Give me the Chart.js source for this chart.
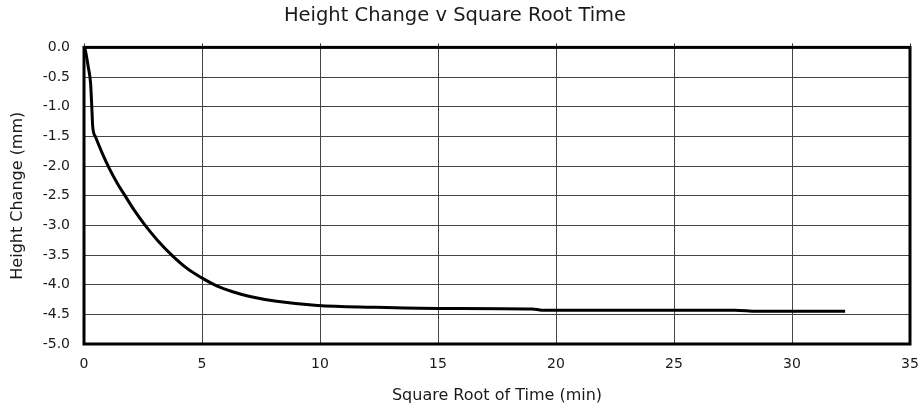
<!DOCTYPE html>
<html>
<head>
<meta charset="utf-8">
<script src="https://cdn.jsdelivr.net/npm/chart.js@4.4.1/dist/chart.umd.min.js"></script>
<style>
  html, body { margin: 0; padding: 0; background: #ffffff; }
  #wrap { width: 921px; height: 409px; }
</style>
</head>
<body>
<div id="wrap"><canvas id="chart" width="921" height="409"></canvas></div>
<script>
// values
const sqrtTime = [0, 0.04, 0.18, 0.28, 0.33, 0.37, 0.49, 0.78, 1.06, 1.41, 1.77, 2.12, 2.61, 3.11, 3.74, 4.38, 5.01, 5.62, 6.3, 7.03, 8.16, 9.9, 12.25, 15.0, 19.0, 19.4, 27.6, 28.5, 32.25];
const heightChange = [0, -0.02, -0.33, -0.61, -1.0, -1.34, -1.51, -1.79, -2.03, -2.29, -2.52, -2.74, -3.01, -3.25, -3.51, -3.73, -3.89, -4.02, -4.12, -4.2, -4.28, -4.35, -4.38, -4.4, -4.41, -4.43, -4.43, -4.45, -4.45];
const xTicks = [0, 5, 10, 15, 20, 25, 30, 35];
const yTicks = [0, -0.5, -1, -1.5, -2, -2.5, -3, -3.5, -4, -4.5, -5];

const FONT = "'DejaVu Sans', 'Liberation Sans', Arial, sans-serif";
const TEXT = "#1a1a1a";

const points = sqrtTime.map((x, i) => ({ x: x, y: heightChange[i] }));

// thick frame round the plot area, with the little marks above the top edge
const framePlugin = {
  id: "frame",
  afterDatasetsDraw(chart) {
    const { ctx, chartArea: a, scales } = chart;
    ctx.save();
    ctx.strokeStyle = "#333333";
    ctx.lineWidth = 1;
    scales.x.ticks.forEach((t) => {
      const px = Math.round(scales.x.getPixelForValue(t.value)) + 0.5;
      ctx.beginPath();
      ctx.moveTo(px, a.top - 4);
      ctx.lineTo(px, a.top);
      ctx.stroke();
    });
    ctx.strokeStyle = "#000000";
    ctx.lineWidth = 3;
    ctx.strokeRect(a.left, a.top, a.right - a.left, a.bottom - a.top);
    ctx.restore();
  },
};

new Chart(document.getElementById("chart"), {
  type: "scatter",
  data: {
    datasets: [
      {
        data: points,
        showLine: true,
        borderColor: "#000000",
        borderWidth: 3,
        pointRadius: 0,
        cubicInterpolationMode: "monotone",
        fill: false,
      },
    ],
  },
  options: {
    responsive: false,
    animation: false,
    devicePixelRatio: 1,
    layout: { padding: { left: 0, right: 11, top: 0, bottom: 0 } },
    plugins: {
      legend: { display: false },
      tooltip: { enabled: false },
      title: {
        display: true,
        text: "Height Change v Square Root Time",
        color: TEXT,
        font: { family: FONT, size: 19.5, weight: "normal" },
        padding: { top: 4, bottom: 20 },
      },
    },
    scales: {
      x: {
        type: "linear",
        min: 0,
        max: 35,
        afterBuildTicks(scale) {
          scale.ticks = xTicks.map((v) => ({ value: v }));
        },
        afterFit(scale) {
          scale.height = 65;
          scale.paddingLeft = 0;
          scale.paddingRight = 0;
        },
        grid: { color: "#444444", lineWidth: 1, drawTicks: false },
        border: { display: false },
        ticks: {
          color: TEXT,
          font: { family: FONT, size: 14 },
          padding: 12,
          maxRotation: 0,
        },
        title: {
          display: true,
          text: "Square Root of Time (min)",
          color: TEXT,
          font: { family: FONT, size: 16 },
          padding: { top: 0, bottom: 4 },
        },
      },
      y: {
        type: "linear",
        min: -5,
        max: 0,
        afterBuildTicks(scale) {
          scale.ticks = yTicks.map((v) => ({ value: v }));
        },
        afterFit(scale) {
          scale.width = 84;
        },
        grid: { color: "#444444", lineWidth: 1, drawTicks: false },
        border: { display: false },
        ticks: {
          color: TEXT,
          font: { family: FONT, size: 14 },
          padding: 14,
          callback: (v) => Number(v).toFixed(1),
        },
        title: {
          display: true,
          text: "Height Change (mm)",
          color: TEXT,
          font: { family: FONT, size: 16 },
          padding: { top: 8, bottom: 0 },
        },
      },
    },
  },
  plugins: [framePlugin],
});
</script>
</body>
</html>
